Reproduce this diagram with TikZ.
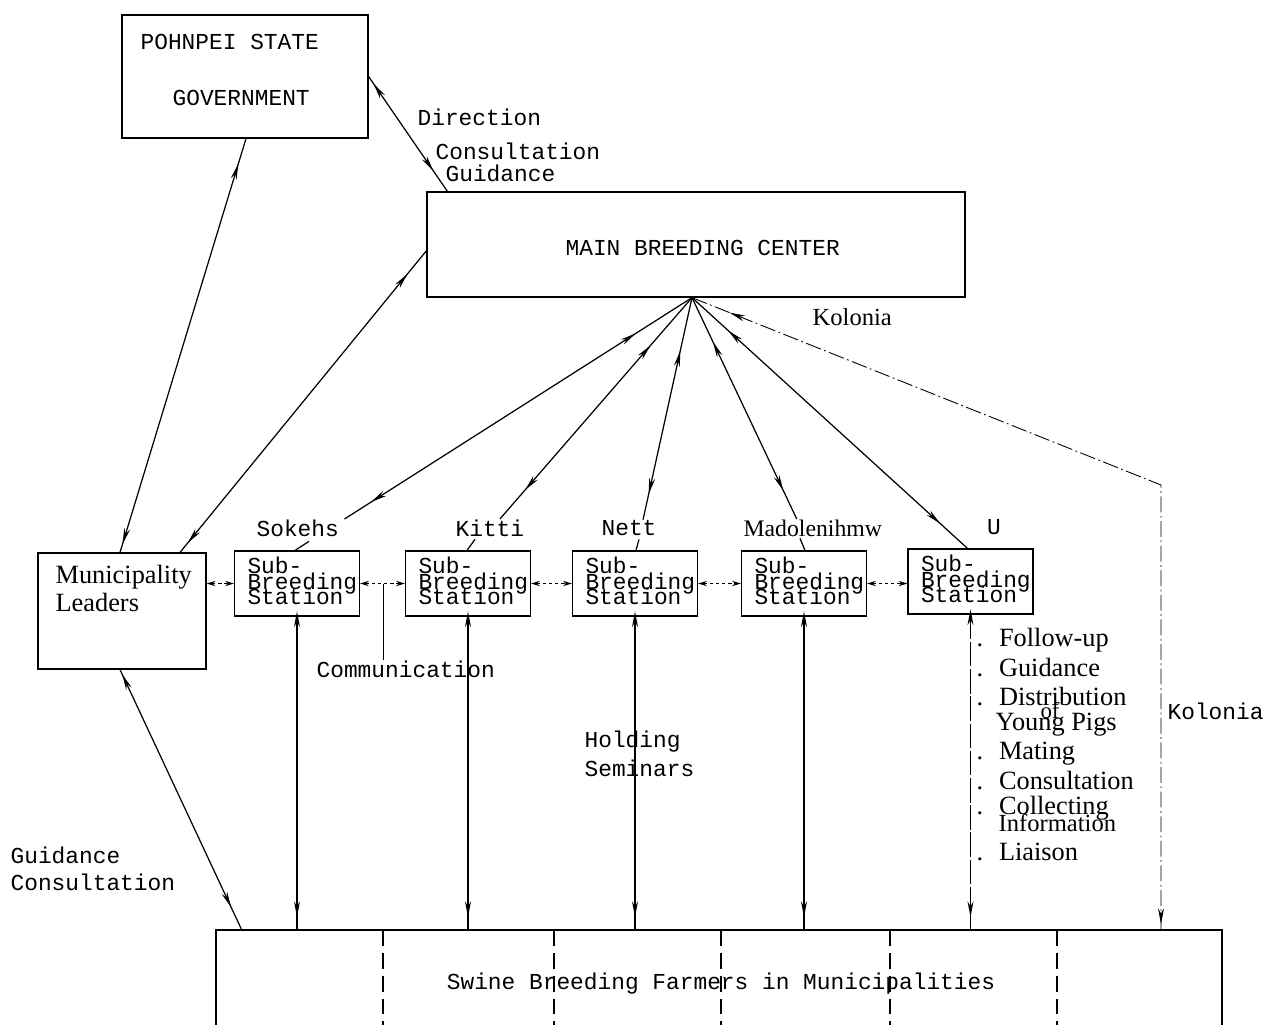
\documentclass[tikz,border=0pt]{standalone}
\usepackage{fontspec}
\setmainfont{Liberation Serif}
\setmonofont{Liberation Mono}
\usetikzlibrary{arrows.meta,calc,decorations.markings}
\begin{document}
\begin{tikzpicture}[x=0.02cm,y=-0.02cm, line width=0.7pt,
  >={Stealth[length=9pt,width=3.4pt]},
  box/.style={draw, rectangle, inner sep=0pt},
  mono/.style={font=\ttfamily\fontsize{13}{15}\selectfont, inner sep=0pt, anchor=west},
  serif/.style={font=\rmfamily\fontsize{14}{16}\selectfont, inner sep=0pt, anchor=west},
  listitem/.style={font=\rmfamily\fontsize{15}{16}\selectfont, inner sep=0pt, anchor=west},
  sbs/.style={box, minimum width=2.5cm, minimum height=1.3cm},
  sbsline/.style={font=\ttfamily\fontsize{13}{15}\selectfont, inner sep=0pt, anchor=base west},
  bi/.style 2 args={postaction={decorate}, decoration={markings,
      mark=at position #1 with {\arrow{<}}, mark=at position #2 with {\arrow{>}}}},
  dotarrow/.style={dash pattern=on 2pt off 1.5pt, {Stealth[length=5pt,width=3pt]}-{Stealth[length=5pt,width=3pt]}},
  kolline/.style={line width=0.5pt, dash pattern=on 9pt off 2pt on 1pt off 2pt},
  divider/.style={line width=0.6pt, dash pattern=on 9pt off 4pt}
]
\useasboundingbox (0,0) rectangle (1263,1024);

% main boxes
\node[box, minimum width=4.92cm, minimum height=2.46cm] (psg) at (245,76.5) {};
\node[mono] (psgt1) at (140,42) {POHNPEI STATE};
\node[mono] (psgt2) at (172,98) {GOVERNMENT};

\node[box, minimum width=10.76cm, minimum height=2.1cm] (mbc) at (696,244.5) {};
\node[mono] (mbct) at (565,248) {MAIN BREEDING CENTER};

\node[box, minimum width=3.36cm, minimum height=2.32cm] (ml) at (122,611) {};
\node[serif, font=\rmfamily\fontsize{15}{16}\selectfont] (mlt1) at (55,577) {Municipality};
\node[serif, font=\rmfamily\fontsize{15}{16}\selectfont] (mlt2) at (55,602) {Leaders};

% sub-breeding stations
\node[sbs] (s1) at (297,583.5) {};
\node[sbs] (s2) at (468,583.5) {};
\node[sbs] (s3) at (635,583.5) {};
\node[sbs] (s4) at (804,583.5) {};
\node[sbs] (s5) at (970.5,581.5) {};
\foreach \s in {s1,s2,s3,s4,s5}{
  \node[sbsline] (\s a) at ($(\s.west)+(13,-10)$) {Sub-};
  \node[sbsline] (\s b) at ($(\s.west)+(13,6)$) {Breeding};
  \node[sbsline] (\s c) at ($(\s.west)+(13,21)$) {Station};
}

% farmers box
\node[box, minimum width=20.12cm, minimum height=2.28cm] (farm) at (719,987) {};
\node[mono, anchor=center] (farmt) at (721,984) {Swine Breeding Farmers in Municipalities};
\foreach \xx in {383,554,721,890,1057}{
  \draw[divider] (\xx,930) -- (\xx,1044);
}

% labels
\node[mono] (dir) at (417,117) {Direction};
\node[mono] (cons) at (435,151) {Consultation};
\node[mono] (guid) at (445,173) {Guidance};
\node[serif] (kol1) at (812,317) {Kolonia};
\node[mono] (sok) at (256,528) {Sokehs};
\node[mono] (kit) at (455,528) {Kitti};
\node[mono] (nett) at (601,528) {Nett};
\node[serif, font=\rmfamily\fontsize{13.5}{15}\selectfont] (mad) at (743,528) {Madolenihmw};
\node[mono, anchor=center] (u) at (994,527) {U};
\node[mono] (comm) at (316,669) {Communication};
\node[mono] (hold1) at (584,742) {Holding};
\node[mono] (hold2) at (584,768) {Seminars};
\node[mono] (lg1) at (10,855) {Guidance};
\node[mono] (lg2) at (10,882) {Consultation};
\node[mono] (kol2) at (1167,711) {Kolonia};

% list of activities
\node[listitem] (l1) at (976,640) {.\hspace{9pt}Follow-up};
\node[listitem] (l2) at (976,668) {.\hspace{9pt}Guidance};
\node[listitem] (l3) at (976,697) {.\hspace{9pt}Distribution};
\node[listitem, font=\rmfamily\fontsize{13}{14}\selectfont, anchor=center] (l3b) at (1050,711) {of};
\node[listitem] (l3c) at (995,725) {Young Pigs};
\node[listitem] (l4) at (976,754) {.\hspace{9pt}Mating};
\node[listitem] (l5) at (976,781) {.\hspace{9pt}Consultation};
\node[listitem] (l6) at (976,808) {.\hspace{9pt}Collecting};
\node[listitem, font=\rmfamily\fontsize{14}{15}\selectfont] (l6b) at (998,823) {Information};
\node[listitem] (l7) at (976,852) {.\hspace{9pt}Liaison};

% connectors: government / main centre / leaders
\draw[bi={14pt}{-14pt}] (psg.east) -- ($(mbc.north west)+(21,0)$);
\draw[bi={14pt}{-15pt}] ($(ml.north)+(-2,0)$) -- ($(psg.south)+(1,0)$);
\draw[bi={16pt}{-18pt}] ($(ml.north)+(58,0)$) -- ($(mbc.west)+(1,5)$);
\draw[bi={12pt}{-14pt}] ($(ml.south)+(-2,0)$) -- ($(farm.north west)+(26,0)$);

% fan from main breeding centre
\coordinate (fan) at ($(mbc.south)+(-4,0)$);
\draw[bi={47pt}{-18pt}] (fan) -- ($(sok.north east)+(5,0)$);
\draw[bi={45pt}{-22pt}] (fan) -- ($(kit.north)+(10,0)$);
\draw[bi={40pt}{-15pt}] (fan) -- ($(nett.north)+(14,0)$);
\draw[bi={37pt}{-18pt}] (fan) -- ($(mad.north)+(-16,0)$);
\draw[bi={37pt}{-21pt}] (fan) -- ($(s5.north)+(-3,0)$);
\coordinate (kc) at (1161,485);
\draw[kolline, bi={32pt}{-3pt}] (fan) -- (kc) -- (kc |- farm.north);

% ticks from place names to stations
\draw ($(s1.north)+(-2,0)$) -- ++(14,-9);
\draw ($(s2.north)+(-1,0)$) -- ++(8,-11);
\draw ($(s3.north)+(1,0)$) -- ++(3,-11);
\draw ($(s4.north)+(1,0)$) -- ++(-5,-12);

% links between stations
\draw[dotarrow] (s1.west -| ml.east) -- (s1.west);
\draw[dotarrow] (s1.east) -- (s2.west);
\draw[dotarrow] (s2.east) -- (s3.west);
\draw[dotarrow] (s3.east) -- (s4.west);
\draw[dotarrow] (s4.east) -- (s5.west |- s4.east);
\coordinate (cm) at ($(s1.east)!0.53!(s2.west)$);
\draw (cm) -- (cm |- comm.north);

% stations to farmers
\draw[bi={6pt}{-7pt}] (s1.south) -- (s1.south |- farm.north);
\draw[bi={6pt}{-7pt}] (s2.south) -- (s2.south |- farm.north);
\draw[bi={6pt}{-7pt}] (s3.south) -- (s3.south |- farm.north);
\draw[bi={6pt}{-7pt}] (s4.south) -- (s4.south |- farm.north);
\draw[bi={6pt}{-7pt}, dash pattern=on 14pt off 1.5pt] (s5.south) -- (s5.south |- farm.north);
\end{tikzpicture}
\end{document}
